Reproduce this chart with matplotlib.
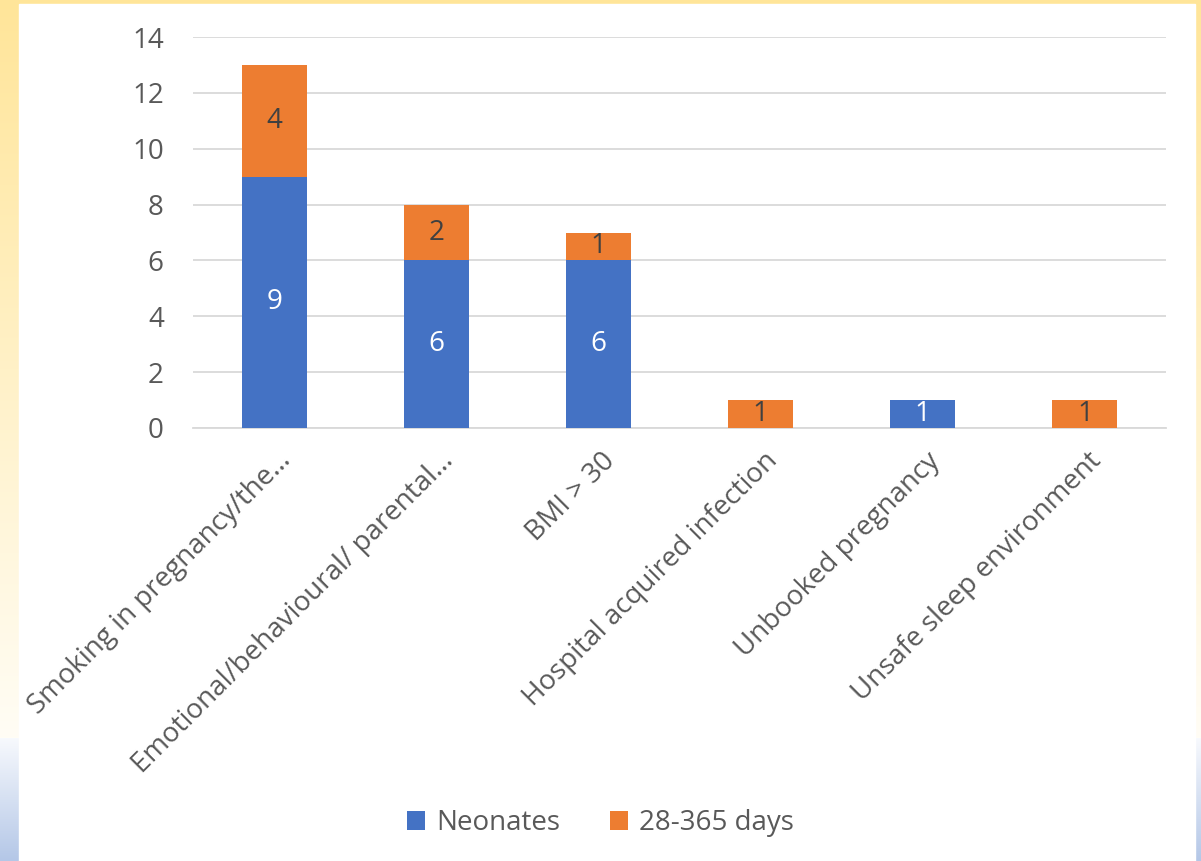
import numpy as np
import matplotlib.pyplot as plt
import matplotlib.transforms as mtransforms
from matplotlib.patches import Rectangle

categories = ["Smoking in pregnancy/the…", "Emotional/behavioural/ parental…", "BMI > 30",
              "Hospital acquired infection", "Unbooked pregnancy", "Unsafe sleep environment"]
neonates = [9, 6, 6, 0, 1, 0]
late = [4, 2, 1, 1, 0, 1]
yticks = [0, 2, 4, 6, 8, 10, 12, 14]

plt.rcParams['font.family'] = ['Open Sans', 'DejaVu Sans']
TXT = "#595959"
BLUE = "#4472C4"
ORANGE = "#ED7D31"

W, H = 1201, 861
fig = plt.figure(figsize=(W / 100, H / 100), dpi=100)

# background: yellow fade at top, blue fade at bottom
bg = fig.add_axes([0, 0, 1, 1])
rows = np.zeros((H, 3))
yel_top = np.array([255, 229, 153]) / 255
yel_bot = np.array([255, 253, 245]) / 255
blu_top = np.array([247, 249, 253]) / 255
blu_bot = np.array([180, 199, 231]) / 255
split = 738
t = np.linspace(0, 1, split)[:, None]
rows[:split] = yel_top * (1 - t) + yel_bot * t
t2 = np.linspace(0, 1, H - split)[:, None]
rows[split:] = blu_top * (1 - t2) + blu_bot * t2
img = np.repeat(rows[:, None, :], W, axis=1)
bg.imshow(img, aspect='auto', extent=[0, W, H, 0])
bg.add_patch(Rectangle((19, 4), 1176, H - 4, color="white"))
bg.set_xlim(0, W)
bg.set_ylim(H, 0)
bg.axis('off')

# plot area in pixels: x 193..1166, y 37..428
ax = fig.add_axes([193 / W, 1 - 428 / H, (1166 - 193) / W, (428 - 37) / H])
ax.patch.set_alpha(0)
x = np.arange(len(categories))
b1 = ax.bar(x, neonates, width=0.4, color=BLUE, zorder=3)
b2 = ax.bar(x, late, width=0.4, bottom=neonates, color=ORANGE, zorder=3)

for xi, n, l in zip(x, neonates, late):
    if n:
        ax.text(xi, n / 2, str(n), ha='center', va='center', color='white', fontsize=20, zorder=4)
    if l:
        ax.text(xi, n + l / 2, str(l), ha='center', va='center', color="#404040", fontsize=20, zorder=4)

ax.set_xlim(-0.5, len(categories) - 0.5)
ax.set_ylim(0, 14)
ax.set_yticks(yticks)
ax.grid(axis='y', color="#D9D9D9", linewidth=1.3, zorder=0)
for s in ['top', 'right', 'left']:
    ax.spines[s].set_visible(False)
ax.spines['bottom'].set_color("#D9D9D9")
ax.spines['bottom'].set_linewidth(1.3)
ax.tick_params(axis='both', length=0, colors=TXT, labelsize=20)
ax.tick_params(axis='y', pad=21)
ax.set_xticks(x)
ax.set_xticklabels(categories, rotation=45, ha='right', rotation_mode='anchor', fontsize=20)
shift = mtransforms.ScaledTranslation(3 / 100, -14 / 100, fig.dpi_scale_trans)
for lbl in ax.get_xticklabels():
    lbl.set_transform(lbl.get_transform() + shift)

leg = fig.legend([b1, b2], ["Neonates", "28-365 days"], loc='center', bbox_to_anchor=(0.5, 1 - 823 / H),
                 ncol=2, frameon=False, fontsize=20, handlelength=0.65, handleheight=0.65,
                 columnspacing=1.8, handletextpad=0.4)
for t in leg.get_texts():
    t.set_color(TXT)

fig.savefig("out.png", dpi=100)
